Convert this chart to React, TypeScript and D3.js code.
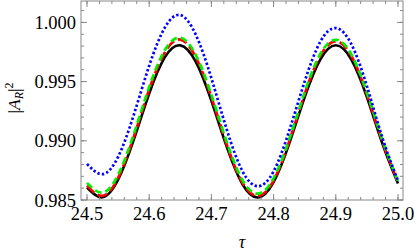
import React from "react";
import * as d3 from "d3";

const tau = [24.5, 24.525, 24.55, 24.575, 24.6, 24.625, 24.65, 24.675, 24.7, 24.725, 24.75, 24.775, 24.8, 24.825, 24.85, 24.875, 24.9, 24.925, 24.95, 24.975, 25.0];
const black = [0.98605, 0.98523, 0.98671, 0.99005, 0.99399, 0.99704, 0.99806, 0.99667, 0.99338, 0.98944, 0.98633, 0.98521, 0.98651, 0.98974, 0.99369, 0.99686, 0.99807, 0.99686, 0.99369, 0.98975, 0.9864];
const red = [0.98621, 0.98536, 0.98687, 0.9903, 0.99433, 0.99745, 0.99855, 0.99705, 0.99368, 0.98964, 0.98646, 0.98535, 0.98664, 0.98993, 0.99395, 0.99717, 0.9984, 0.99716, 0.99392, 0.98991, 0.9865];
const green = [0.98645, 0.98562, 0.98713, 0.99053, 0.99455, 0.99765, 0.99871, 0.99724, 0.99388, 0.98985, 0.98667, 0.98554, 0.98684, 0.99011, 0.99412, 0.99733, 0.99853, 0.9973, 0.99407, 0.99006, 0.98655];
const blue = [0.98805, 0.98718, 0.98864, 0.99216, 0.99634, 0.99955, 1.00062, 0.99895, 0.99528, 0.9909, 0.98743, 0.98616, 0.98742, 0.99083, 0.99502, 0.99836, 0.99952, 0.99816, 0.99462, 0.99024, 0.98662];

const xMajor = [24.5, 24.6, 24.7, 24.8, 24.9, 25.0];
const xMajorLabels = ["24.5", "24.6", "24.7", "24.8", "24.9", "25.0"];
const yMajor = [0.985, 0.99, 0.995, 1.0];
const yMajorLabels = ["0.985", "0.990", "0.995", "1.000"];

const W = 415, H = 252;
const L = 81, R = 403, T = 1, B = 200;

export default function App() {
  const x = d3.scaleLinear().domain([24.49035, 25.00804]).range([L, R]);
  const y = d3.scaleLinear().domain([0.985, 1.001807]).range([B, T]);

  const mk = (vals: number[]) =>
    d3.line<number>().x((_, i) => x(tau[i])).y((v) => y(v)).curve(d3.curveNatural)(vals) || "";

  const xMinor = d3.range(24.5, 25.0001, 0.02).filter((v) => v >= 24.49 && v <= 25.008);
  const yMinor = d3.range(0.985, 1.0018, 0.001);

  const frame = "#888";
  const font = "'Liberation Serif', 'DejaVu Serif', serif";

  return (
    <svg width={W} height={H} style={{ position: "absolute", left: 0, top: 0, background: "#fff" }}>
      <defs>
        <clipPath id="clip">
          <rect x={L} y={T} width={R - L} height={B - T} />
        </clipPath>
      </defs>
      <g clipPath="url(#clip)" fill="none">
        <path d={mk(black)} stroke="#000" strokeWidth={2.6} />
        <path d={mk(red)} stroke="#ff0000" strokeWidth={2.7} strokeDasharray="10,4" />
        <path d={mk(green)} stroke="#00ee00" strokeWidth={2.7} strokeDasharray="7,4" />
        <path d={mk(blue)} stroke="#0000ff" strokeWidth={2.7} strokeDasharray="2.4,2.2" />
      </g>
      <rect x={L} y={T} width={R - L} height={B - T} fill="none" stroke={frame} strokeWidth={1} />
      {xMinor.map((v, i) => (
        <g key={"xm" + i} stroke={frame} strokeWidth={1}>
          <line x1={x(v)} x2={x(v)} y1={B} y2={B - 3} />
          <line x1={x(v)} x2={x(v)} y1={T} y2={T + 3} />
        </g>
      ))}
      {xMajor.map((v, i) => (
        <g key={"xM" + i}>
          <line x1={x(v)} x2={x(v)} y1={B} y2={B - 6} stroke={frame} />
          <line x1={x(v)} x2={x(v)} y1={T} y2={T + 6} stroke={frame} />
          <text x={x(v)} y={220} textAnchor="middle" fontFamily={font} fontSize={18.5} fill="#000">
            {xMajorLabels[i]}
          </text>
        </g>
      ))}
      {yMinor.map((v, i) => (
        <g key={"ym" + i} stroke={frame} strokeWidth={1}>
          <line x1={L} x2={L + 3} y1={y(v)} y2={y(v)} />
          <line x1={R} x2={R - 3} y1={y(v)} y2={y(v)} />
        </g>
      ))}
      {yMajor.map((v, i) => (
        <g key={"yM" + i}>
          <line x1={L} x2={L + 6} y1={y(v)} y2={y(v)} stroke={frame} />
          <line x1={R} x2={R - 6} y1={y(v)} y2={y(v)} stroke={frame} />
          <text x={76} y={y(v) + 6.5} textAnchor="end" fontFamily={font} fontSize={18.5} fill="#000">
            {yMajorLabels[i]}
          </text>
        </g>
      ))}
      <text x={242} y={248} textAnchor="middle" fontFamily={font} fontSize={18} fontStyle="italic" fill="#000">
        τ
      </text>
      <text transform="translate(20,98) rotate(-90)" textAnchor="middle" fontFamily={font} fontSize={17.5} fill="#000">
        |<tspan fontStyle="italic">A</tspan>
        <tspan fontStyle="italic" fontSize={12} dy={3}>R</tspan>
        <tspan dy={-3}>|</tspan>
        <tspan fontSize={12} dy={-7.5}>2</tspan>
      </text>
    </svg>
  );
}
